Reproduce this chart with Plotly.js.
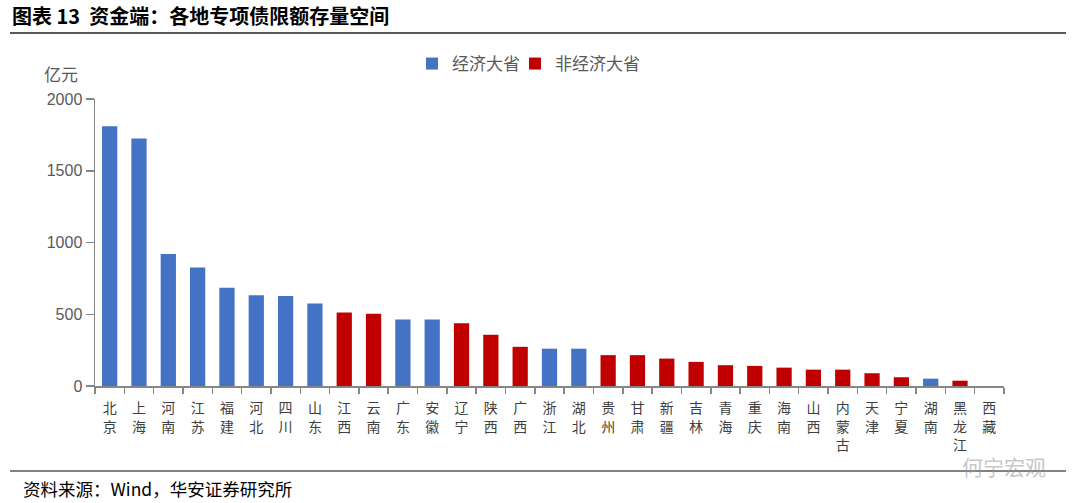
<!DOCTYPE html>
<html>
<head>
<meta charset="utf-8">
<script src="https://cdn.plot.ly/plotly-3.0.1.min.js"></script>
<style>html,body{margin:0;padding:0;background:#fff;}#chart{width:1080px;height:503px;}</style>
</head>
<body>
<div id="chart"></div>
<script>
// Data (亿元)
var provinces = ['北京','上海','河南','江苏','福建','河北','四川','山东','江西','云南','广东','安徽','辽宁','陕西','广西','浙江','湖北','贵州','甘肃','新疆','吉林','青海','重庆','海南','山西','内蒙古','天津','宁夏','湖南','黑龙江','西藏'];
var values = [1810,1725,920,825,685,633,627,575,512,503,463,463,438,357,273,260,260,215,215,191,168,145,140,128,114,114,89,61,51,37,0];
var economicProvinces = ['北京','上海','河南','江苏','福建','河北','四川','山东','广东','安徽','浙江','湖北','湖南'];
var seriesNames = ['经济大省','非经济大省'];
var yTicks = [0,500,1000,1500,2000];

var CJK = '"Noto Sans CJK SC", "Noto Sans", sans-serif';
var LAT = '"Liberation Sans", Arial, sans-serif';

var isEco = provinces.map(function(p){ return economicProvinces.indexOf(p) >= 0; });
var ecoY = values.map(function(v,i){ return isEco[i] ? v : null; });
var nonY = values.map(function(v,i){ return isEco[i] ? null : v; });
var tickText = provinces.map(function(p){ return p.split('').join('<br>'); });

var traces = [
  {type:'bar', name:seriesNames[0], x:provinces, y:ecoY, width:0.52, legend:'legend',
   marker:{color:'#4472C4', line:{width:0}}, hoverinfo:'x+y'},
  {type:'bar', name:seriesNames[1], x:provinces, y:nonY, width:0.52, legend:'legend2',
   marker:{color:'#C00000', line:{width:0}}, hoverinfo:'x+y'}
];

function px2x(px){ return (px-95)/909; }
function px2y(py){ return (386-py)/287; }

var legendBase = {orientation:'h', xanchor:'left', y:px2y(64), yanchor:'middle',
  font:{family:CJK, size:17, color:'#595959'}, itemwidth:30, bgcolor:'rgba(0,0,0,0)'};

var layout = {
  width:1080, height:503,
  margin:{l:95, r:76, t:99, b:117, pad:0},
  paper_bgcolor:'#fff', plot_bgcolor:'#fff',
  barmode:'overlay',
  showlegend:true,
  title:{text:'图表 13  资金端：各地专项债限额存量空间', xref:'container', yref:'container',
         x:12/1080, xanchor:'left', y:1-17/503, yanchor:'middle',
         font:{family:CJK, size:20, color:'#000', weight:'bold'}},
  legend:Object.assign({}, legendBase, {x:px2x(412)}),
  legend2:Object.assign({}, legendBase, {x:px2x(515)}),
  xaxis:{type:'category', range:[-0.5, provinces.length-0.5], tickvals:provinces, ticktext:tickText,
         tickson:'boundaries', ticks:'outside', ticklen:6, tickwidth:1.5, tickcolor:'#868686',
         ticklabelstandoff:9,
         showline:true, linecolor:'#868686', linewidth:1.5, showgrid:false, zeroline:false,
         tickangle:0, tickfont:{family:CJK, size:14, color:'#404040'}, fixedrange:true},
  yaxis:{range:[0,2000], tickvals:yTicks, ticks:'outside', ticklen:8, tickwidth:1.5, tickcolor:'#868686',
         showline:true, linecolor:'#868686', linewidth:1.5, showgrid:false, zeroline:false,
         tickfont:{family:LAT, size:16, color:'#595959'}, fixedrange:true},
  shapes:[
    {type:'line', xref:'paper', yref:'paper', x0:px2x(10), x1:px2x(1066), y0:px2y(33), y1:px2y(33),
     line:{color:'#595959', width:2}},
    {type:'line', xref:'paper', yref:'paper', x0:px2x(10), x1:px2x(1066), y0:px2y(471), y1:px2y(471),
     line:{color:'#595959', width:1.5}}
  ],
  annotations:[
    {text:'亿元', xref:'paper', yref:'paper', x:px2x(42), xanchor:'left', y:px2y(73), yanchor:'middle',
     showarrow:false, font:{family:CJK, size:17, color:'#595959'}},
    {text:'资料来源：Wind，华安证券研究所', xref:'paper', yref:'paper', x:px2x(21), xanchor:'left',
     y:px2y(488), yanchor:'middle', showarrow:false, font:{family:CJK, size:17.5, color:'#000'}},
    {text:'何宁宏观', xref:'paper', yref:'paper', x:px2x(1048), xanchor:'right', y:px2y(466), yanchor:'middle',
     showarrow:false, font:{family:CJK, size:21, color:'rgba(150,150,150,0.55)'}}
  ]
};

Plotly.newPlot('chart', traces, layout, {displayModeBar:false, staticPlot:true});
</script>
</body>
</html>
